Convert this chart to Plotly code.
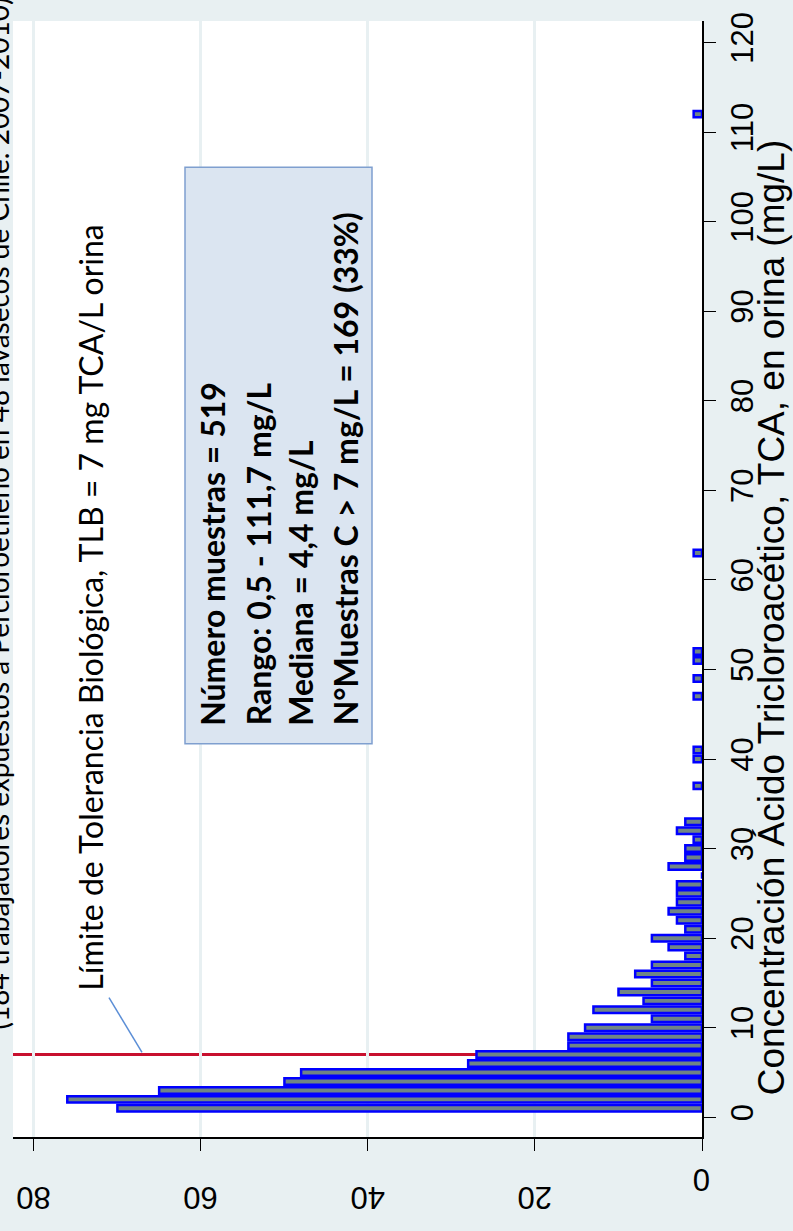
import plotly.graph_objects as go

# ---- data ----
conc_bins = list(range(1, 34)) + [37, 40, 41, 47, 49, 51, 52, 63, 112]
counts = [70, 76, 65, 50, 48, 28, 27, 16, 16, 14,
          6, 13, 7, 10, 6, 8, 6, 2, 4, 6,
          2, 3, 4, 3, 3, 3, 0, 4, 2, 2,
          1, 3, 2] + [1, 1, 1, 1, 1, 1, 1, 1, 1]
conc_ticks = list(range(0, 121, 10))
freq_ticks = [0, 20, 40, 60, 80]
freq_labels = ["0", "20", "40", "60", "80"]
tlb_value = 7

title_text = "(184 trabajadores expuestos a Percloroetileno en 48 lavasecos de Chile. 2007-2010)"
tlb_text = "Límite de Tolerancia Biológica, TLB = 7 mg TCA/L orina"
axis_title = "Concentración Ácido Tricloroacético, TCA, en orina (mg/L)"
box_lines = ["Número muestras = 519",
             "Rango: 0,5 - 111,7 mg/L",
             "Mediana = 4,4 mg/L",
             "N°Muestras C > 7 mg/L = 169 (33%)"]

# ---- layout geometry ----
W, H = 793, 1231
ML, MR, MT, MB = 13, 91, 16, 94
PW, PH = W - ML - MR, H - MT - MB

def px(x):
    return (x - ML) / PW

def py(y):
    return 1 - (y - MT) / PH

BG = "#e8f0f2"
AXFONT = "Liberation Sans, Arial"
fig = go.Figure()
fig.add_trace(go.Bar(
    orientation="h", y=conc_bins, x=counts, width=0.72,
    marker=dict(color="#708585", line=dict(color="#0000ff", width=2.5)),
    showlegend=False, hoverinfo="skip"))

fig.update_layout(
    width=W, height=H, paper_bgcolor=BG, plot_bgcolor="white",
    margin=dict(l=ML, r=MR, t=MT, b=MB, pad=0),
    font=dict(family=AXFONT, color="black"),
    showlegend=False,
    xaxis=dict(range=[82.5, 0], tickvals=freq_ticks, showticklabels=False,
               ticks="outside", ticklen=12, tickwidth=1.2, tickcolor="black",
               showgrid=True, gridcolor=BG, gridwidth=3, zeroline=False,
               showline=True, linecolor="black", linewidth=1.5),
    yaxis=dict(range=[-2.2, 122.4], side="right", tickvals=conc_ticks, tickangle=-90,
               ticks="outside", ticklen=12, tickwidth=1.2, tickcolor="black",
               showgrid=False, zeroline=False,
               showline=True, linecolor="black", linewidth=1.5,
               tickfont=dict(size=31, family=AXFONT)),
)

# x tick labels, drawn upside down as in the reference
for v, lab in zip(freq_ticks, freq_labels):
    yy = 1179 if v == 0 else 1198
    fig.add_annotation(xref="x", yref="paper", x=v, y=py(yy),
                       xanchor="center", yanchor="middle", showarrow=False,
                       textangle=180, text=lab,
                       font=dict(family=AXFONT, size=31, color="black"))

# TLB red line
fig.add_shape(type="line", xref="paper", yref="y", x0=0, x1=1, y0=tlb_value, y1=tlb_value,
              line=dict(color="#c8102e", width=3), layer="below")
# pointer line
fig.add_shape(type="line", xref="paper", yref="paper",
              x0=px(109), y0=py(997), x1=px(142), y1=py(1052),
              line=dict(color="#5b8ed6", width=1.5))
# text box
fig.add_shape(type="rect", xref="paper", yref="paper",
              x0=px(185), x1=px(372), y0=py(742), y1=py(163),
              fillcolor="#dbe5f1", line=dict(color="#7f9fcf", width=1.5))

box_x = [213, 258, 301, 345]
for xx, t in zip(box_x, box_lines):
    fig.add_annotation(xref="paper", yref="paper", x=px(xx), y=py(726),
                       xanchor="center", yanchor="bottom", showarrow=False,
                       textangle=-90, text="<b>" + t + "</b>",
                       font=dict(family="Lato", size=32, color="black"))

fig.add_annotation(xref="paper", yref="paper", x=px(91), y=py(992),
                   xanchor="center", yanchor="bottom", showarrow=False,
                   textangle=-90, text=tlb_text,
                   font=dict(family="Lato", size=32, color="black"))

fig.add_annotation(xref="paper", yref="paper", x=px(-2), y=py(1031),
                   xanchor="center", yanchor="bottom", showarrow=False,
                   textangle=-90, text=title_text,
                   font=dict(family="Lato", size=28, color="black"))

fig.add_annotation(xref="paper", yref="paper", x=px(771), y=py(615),
                   xanchor="center", yanchor="middle", showarrow=False,
                   textangle=-90, text=axis_title,
                   font=dict(family=AXFONT, size=37, color="black"))

fig.write_html("out.html", config={"displayModeBar": False},
               post_script="document.body.style.margin='0';"
                           "document.body.style.background='" + BG + "';")
